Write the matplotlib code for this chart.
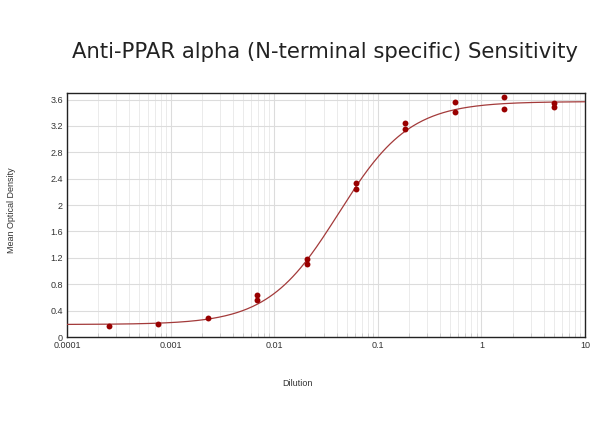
import numpy as np
import matplotlib
matplotlib.use("Agg")
import matplotlib.pyplot as plt
from matplotlib.ticker import LogLocator, FixedLocator, NullFormatter

plt.rcParams['font.family'] = ['Liberation Sans', 'DejaVu Sans']

# dilution series (3-fold) and replicate optical densities
dilution = [0.000254, 0.000762, 0.00229, 0.00686, 0.00686, 0.0206, 0.0206,
            0.0617, 0.0617, 0.185, 0.185, 0.556, 0.556, 1.667, 1.667, 5.0, 5.0]
od = [0.16, 0.20, 0.29, 0.63, 0.56, 1.18, 1.11,
      2.33, 2.25, 3.24, 3.16, 3.57, 3.41, 3.64, 3.45, 3.55, 3.48]

# 4PL fit parameters
fit_bottom = 0.19
fit_top = 3.57
fit_ec50 = 0.042
fit_hill = 1.27

y_ticks = [0, 0.4, 0.8, 1.2, 1.6, 2, 2.4, 2.8, 3.2, 3.6]
y_labels = ["0", "0.4", "0.8", "1.2", "1.6", "2", "2.4", "2.8", "3.2", "3.6"]
x_ticks = [0.0001, 0.001, 0.01, 0.1, 1, 10]
x_labels = ["0.0001", "0.001", "0.01", "0.1", "1", "10"]

fig = plt.figure(figsize=(6, 4.47), dpi=100)
ax = fig.add_axes([0.1117, 0.246, 0.8633, 0.546])

xs = np.logspace(-4, 1, 400)
curve = fit_bottom + (fit_top - fit_bottom) / (1 + (fit_ec50 / xs) ** fit_hill)
ax.plot(xs, curve, color="#a33a3a", lw=0.9, zorder=3)
ax.scatter(dilution, od, s=18, color="#990000", zorder=4, linewidths=0)

ax.set_xscale("log")
ax.set_xlim(0.0001, 10)
ax.set_ylim(0, 3.7)
ax.xaxis.set_major_locator(FixedLocator(x_ticks))
ax.set_xticklabels(x_labels)
ax.xaxis.set_minor_locator(LogLocator(base=10, subs=np.arange(2, 10)))
ax.xaxis.set_minor_formatter(NullFormatter())
ax.set_yticks(y_ticks)
ax.set_yticklabels(y_labels)

ax.grid(True, which="major", color="#dcdcdc", lw=0.8)
ax.grid(True, which="minor", axis="x", color="#e8e8e8", lw=0.6)
ax.set_axisbelow(True)

ax.tick_params(axis="both", which="major", labelsize=6.5, length=0, pad=3,
               labelcolor="#333333")
ax.tick_params(axis="x", which="minor", direction="in", length=3, color="#c8c8c8")
for s in ax.spines.values():
    s.set_color("#222222")
    s.set_linewidth(1.0)

fig.text(0.541, 0.883, "Anti-PPAR alpha (N-terminal specific) Sensitivity",
         ha="center", va="center", fontsize=15.2, family="DejaVu Sans",
         color="#222222")
fig.text(0.495, 0.143, "Dilution", ha="center", va="center", fontsize=6.5,
         color="#333333")
fig.text(0.02, 0.53, "Mean Optical Density", ha="center", va="center",
         rotation=90, fontsize=6.5, color="#333333")

fig.savefig("out.png", dpi=100)
